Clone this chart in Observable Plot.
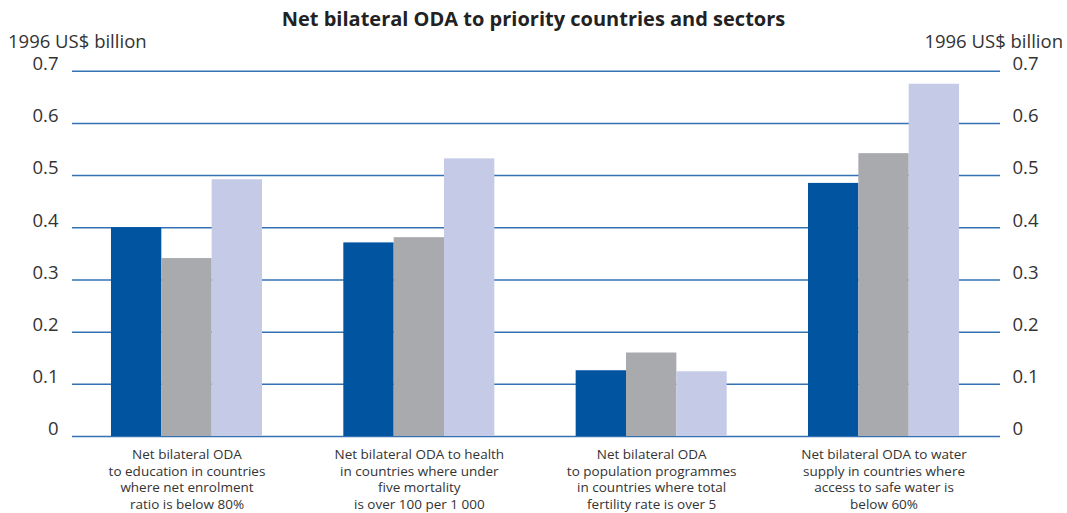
<!DOCTYPE html>
<html><head><meta charset="utf-8">
<script src="https://cdn.jsdelivr.net/npm/d3@7"></script>
<script src="https://cdn.jsdelivr.net/npm/@observablehq/plot@0.6"></script>
<style>
body{margin:0;background:#fff;font-family:"Open Sans",sans-serif;}
#wrap{position:relative;width:1067px;height:513px;overflow:hidden;}
#title{position:absolute;left:0;top:6px;width:1067px;text-align:center;font-weight:bold;font-size:20px;color:#222;line-height:26px;}
.unit{position:absolute;top:32px;font-size:18.5px;color:#333;line-height:18px;}
.layer{position:absolute;left:0;top:0;}
</style></head><body>
<div id="wrap">
<div id="under" class="layer"></div>
<div id="over" class="layer"></div>
<div id="title">Net bilateral ODA to priority countries and sectors</div>
<div class="unit" style="left:8px">1996 US$ billion</div>
<div class="unit" style="right:4px">1996 US$ billion</div>
</div>
<script>
const categories = [
  "Net bilateral ODA\nto education in countries\nwhere net enrolment\nratio is below 80%",
  "Net bilateral ODA to health\nin countries where under\nfive mortality\nis over 100 per 1 000",
  "Net bilateral ODA\nto population programmes\nin countries where total\nfertility rate is over 5",
  "Net bilateral ODA to water\nsupply in countries where\naccess to safe water is\nbelow 60%"
];
const series = ["Series 1", "Series 2", "Series 3"];
const education = [0.400, 0.341, 0.492];
const health = [0.371, 0.381, 0.532];
const population = [0.126, 0.160, 0.124];
const water = [0.485, 0.542, 0.675];
const yTicks = [0, 0.1, 0.2, 0.3, 0.4, 0.5, 0.6, 0.7];

const groups = [education, health, population, water];
const table = [];
categories.forEach((c, i) => series.forEach((s, j) => table.push({category: c, series: s, value: groups[i][j]})));

const gridColor = "#3572b4";
const textColor = "#333";
const fmt = d => d === 0 ? "0" : d.toFixed(1);

const frame = {
  width: 1067,
  height: 513,
  marginTop: 70.7,
  marginBottom: 77,
  marginLeft: 72,
  marginRight: 67,
  style: {fontFamily: "'Open Sans', sans-serif", color: textColor, background: "transparent"}
};

// Underlay: continuous gridlines and both y axes
const under = Plot.plot({
  ...frame,
  y: {domain: [0, 0.7], axis: null},
  marks: [
    Plot.ruleY(yTicks, {y: d => d, stroke: gridColor, strokeWidth: 1.5}),
    Plot.axisY({anchor: "left", ticks: yTicks, tickSize: 0, tickPadding: 14, fontSize: 18.5, dy: -7, tickFormat: fmt, label: null, fill: textColor}),
    Plot.axisY({anchor: "right", ticks: yTicks, tickSize: 0, tickPadding: 12, fontSize: 18.5, dy: -7, tickFormat: fmt, label: null, fill: textColor})
  ]
});

// Overlay: grouped bars and category labels
const over = Plot.plot({
  ...frame,
  fx: {domain: categories, paddingInner: 0.35, paddingOuter: 0.172, align: 0.4875, round: false, label: null},
  x: {domain: series, padding: 0, round: false, axis: null},
  y: {domain: [0, 0.7], axis: null},
  color: {domain: series, range: ["#0054a0", "#a9aaae", "#c5cae6"]},
  marks: [
    Plot.barY(table, {fx: "category", x: "series", y: "value", fill: "series"}),
    Plot.axisFx({anchor: "bottom", tickSize: 0, tickPadding: 11, fontSize: 13.5, lineHeight: 1.22, label: null, fill: textColor})
  ]
});
document.getElementById("under").appendChild(under);
document.getElementById("over").appendChild(over);
</script>
</body></html>
